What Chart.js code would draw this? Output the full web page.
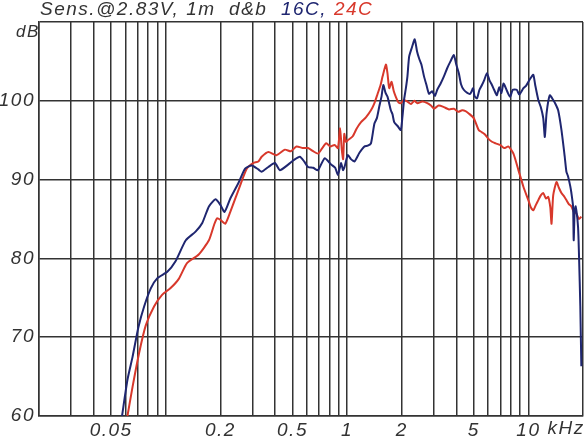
<!DOCTYPE html>
<html>
<head>
<meta charset="utf-8">
<script src="https://cdn.jsdelivr.net/npm/chart.js@4/dist/chart.umd.min.js"></script>
<style>
  html, body { margin: 0; padding: 0; background: #fff; }
  #wrap { width: 586px; height: 436px; position: relative; }
</style>
</head>
<body>
<div id="wrap"><canvas id="chart"></canvas></div>
<script>
// 16C (blue) response, kHz / dB
const blueFreq = [0.0574, 0.0615, 0.0656, 0.0707, 0.076, 0.0827, 0.0899, 0.102, 0.113, 0.129, 0.146, 0.159, 0.173, 0.188, 0.2, 0.211, 0.227, 0.252, 0.274, 0.298, 0.324, 0.338, 0.368, 0.4, 0.426, 0.473, 0.51, 0.549, 0.58, 0.609, 0.65, 0.691, 0.752, 0.818, 0.86, 0.89, 0.91, 0.928, 0.95, 0.968, 1.009, 1.05, 1.098, 1.17, 1.246, 1.3, 1.354, 1.414, 1.46, 1.506, 1.55, 1.584, 1.63, 1.672, 1.743, 1.78, 1.819, 1.9, 1.978, 2.02, 2.064, 2.11, 2.152, 2.199, 2.28, 2.36, 2.43, 2.494, 2.57, 2.656, 2.74, 2.83, 2.95, 3.05, 3.142, 3.28, 3.42, 3.56, 3.716, 3.88, 4.0, 4.133, 4.25, 4.4, 4.6, 4.782, 4.95, 5.05, 5.204, 5.37, 5.543, 5.72, 5.906, 6.1, 6.292, 6.5, 6.698, 6.9, 7.1, 7.29, 7.6, 7.921, 8.2, 8.62, 8.9, 9.384, 9.7, 9.99, 10.3, 10.64, 10.9, 11.34, 11.7, 12.07, 12.32, 12.59, 13.12, 13.7, 14.1, 14.59, 15.21, 15.86, 16.2, 16.55, 17.0, 17.26, 17.63, 17.77, 17.99, 18.22, 18.78, 19.02, 19.33, 19.58];
const blueDb = [60, 64.6, 67.5, 71.3, 73.9, 76.2, 77.5, 78.3, 79.6, 82.3, 83.4, 84.5, 86.6, 87.5, 86.8, 85.9, 87.6, 89.6, 91.4, 91.8, 91.3, 91.0, 91.6, 92.1, 91.2, 91.9, 92.5, 92.9, 92.3, 91.6, 91.5, 91.2, 92.7, 91.9, 91.5, 90.6, 91.4, 92.1, 91.2, 91.6, 93.1, 92.6, 92.3, 93.4, 94.2, 94.3, 94.6, 97.1, 97.8, 99.3, 100.6, 102.0, 101.0, 100.5, 98.8, 98.3, 97.3, 96.8, 96.3, 98.0, 100.2, 101.6, 103.1, 105.6, 106.8, 107.8, 106.3, 105.4, 104.6, 103.1, 102.0, 100.9, 101.2, 100.6, 101.4, 102.2, 103.1, 104.1, 105.0, 105.8, 104.6, 103.5, 102.1, 101.4, 101.0, 100.9, 101.6, 100.6, 100.3, 101.4, 102.0, 102.7, 103.5, 102.6, 102.0, 101.3, 100.7, 101.7, 101.0, 102.2, 101.3, 100.5, 101.4, 101.4, 100.8, 101.6, 101.9, 102.4, 102.9, 103.3, 102.0, 100.1, 99.2, 97.8, 95.4, 98.4, 100.7, 100.1, 99.6, 98.8, 96.3, 92.9, 91.0, 90.4, 89.2, 88.3, 86.6, 82.3, 86.0, 86.6, 84.0, 80.2, 73.9, 66.3];

// 24C (red) response, kHz / dB
const redFreq = [0.0615, 0.0656, 0.0713, 0.0776, 0.0862, 0.0957, 0.106, 0.118, 0.131, 0.152, 0.173, 0.185, 0.192, 0.2, 0.213, 0.227, 0.252, 0.28, 0.304, 0.324, 0.338, 0.368, 0.408, 0.454, 0.49, 0.526, 0.57, 0.609, 0.65, 0.691, 0.73, 0.768, 0.81, 0.853, 0.89, 0.915, 0.935, 0.951, 0.965, 0.985, 1.009, 1.075, 1.13, 1.194, 1.27, 1.354, 1.41, 1.474, 1.53, 1.57, 1.637, 1.67, 1.708, 1.759, 1.81, 1.857, 1.92, 1.978, 2.06, 2.152, 2.25, 2.35, 2.442, 2.6, 2.77, 2.9, 3.014, 3.2, 3.42, 3.65, 3.88, 4.1, 4.308, 4.5, 4.688, 4.994, 5.318, 5.55, 5.78, 6.0, 6.292, 6.6, 6.982, 7.35, 7.764, 8.268, 8.808, 9.384, 9.99, 10.3, 10.64, 11.0, 11.34, 11.7, 12.07, 12.5, 12.86, 13.2, 13.41, 13.7, 14.28, 14.7, 15.21, 15.7, 16.2, 16.7, 17.26, 17.8, 18.38, 19.0, 19.58];
const redDb = [60, 63.7, 68.0, 71.5, 73.9, 75.4, 76.2, 77.4, 79.4, 80.5, 82.3, 84.3, 85.1, 84.9, 84.4, 85.9, 88.7, 91.4, 92.1, 92.3, 92.9, 93.5, 93.1, 93.8, 93.6, 94.2, 94.0, 94.0, 93.6, 93.3, 94.0, 94.6, 94.2, 94.4, 94.0, 96.5, 93.8, 92.6, 95.8, 94.8, 95.0, 95.5, 96.5, 97.3, 97.9, 98.8, 99.6, 100.9, 102.0, 103.1, 104.6, 103.5, 101.6, 102.4, 101.2, 100.5, 99.8, 99.7, 100.1, 99.9, 99.6, 100.0, 99.7, 99.9, 99.7, 99.4, 99.0, 99.4, 99.2, 98.9, 99.0, 98.6, 98.8, 98.7, 98.4, 97.8, 96.3, 96.0, 95.7, 95.2, 94.8, 94.6, 94.4, 94.0, 94.2, 93.3, 91.2, 89.1, 87.4, 86.5, 86.1, 86.8, 87.4, 88.0, 88.3, 87.6, 87.8, 86.5, 84.4, 88.0, 89.7, 89.0, 88.3, 87.9, 87.4, 86.9, 86.6, 85.9, 85.7, 85.0, 85.3];

// grid lines and labelled ticks on the frequency axis
const gridFreqs = [0.02, 0.03, 0.04, 0.05, 0.06, 0.07, 0.08, 0.09, 0.1, 0.2, 0.3, 0.4, 0.5, 0.6, 0.7, 0.8, 0.9, 1, 2, 3, 4, 5, 6, 7, 8, 9, 10, 20];
const xLabelValues = [0.05, 0.2, 0.5, 1, 2, 5, 10];
const xLabelTexts = ["0.05", "0.2", "0.5", "1", "2", "5", "10"];
const dbTicks = [60, 70, 80, 90, 100];

const BLUE = "#1f2670";
const RED = "#d8382b";
const INK = "#333";
const FONT = '"Liberation Sans", Arial, sans-serif';

const textPlugin = {
  id: "texts",
  beforeDraw(chart) {
    chart.ctx.letterSpacing = "1.5px";
  },
  afterDraw(chart) {
    const ctx = chart.ctx;
    ctx.save();
    ctx.letterSpacing = "1.5px";
    ctx.textAlign = "left";
    ctx.textBaseline = "alphabetic";
    ctx.font = "italic 19px " + FONT;
    // title, coloured by series
    const parts = [["Sens.@2.83V, 1m  d&b  ", INK], ["16C,", BLUE], [" ", INK], ["24C", RED]];
    let x = 40;
    parts.forEach(([t, c]) => {
      ctx.fillStyle = c;
      ctx.fillText(t, x, 15);
      x += ctx.measureText(t).width;
    });
    ctx.fillStyle = INK;
    ctx.font = "italic 17px " + FONT;
    ctx.fillText("dB", 16, 37);
    ctx.font = "italic 19px " + FONT;
    ctx.textBaseline = "middle";
    ctx.fillText("kHz", chart.scales.x.getPixelForValue(10) + 19, 429);
    ctx.restore();
  },
};

new Chart(document.getElementById("chart"), {
  type: "line",
  data: {
    datasets: [
      {
        label: "16C",
        data: blueFreq.map((f, i) => ({ x: f, y: blueDb[i] })),
        borderColor: BLUE,
        borderWidth: 2,
        pointRadius: 0,
        tension: 0.2,
      },
      {
        label: "24C",
        data: redFreq.map((f, i) => ({ x: f, y: redDb[i] })),
        borderColor: RED,
        borderWidth: 2,
        pointRadius: 0,
        tension: 0.2,
      },
    ],
  },
  options: {
    responsive: true,
    maintainAspectRatio: false,
    animation: false,
    devicePixelRatio: 1,
    layout: { padding: { top: 22, right: 0, left: 0, bottom: 0 } },
    plugins: {
      legend: { display: false },
      tooltip: { enabled: false },
    },
    scales: {
      x: {
        type: "logarithmic",
        min: 0.02,
        max: 20,
        afterBuildTicks: (scale) => {
          scale.ticks = gridFreqs.map((v) => ({ value: v }));
        },
        afterFit: (scale) => {
          scale.height = 20;
        },
        grid: { color: INK, lineWidth: 1.5, drawTicks: false },
        border: { color: INK, width: 1.5 },
        ticks: {
          autoSkip: false,
          maxRotation: 0,
          minRotation: 0,
          padding: 3,
          color: INK,
          font: { family: FONT, size: 19, style: "italic" },
          callback: (v) => {
            const i = xLabelValues.indexOf(v);
            return i >= 0 ? xLabelTexts[i] : "";
          },
        },
      },
      y: {
        min: 60,
        max: 110,
        afterBuildTicks: (scale) => {
          scale.ticks = dbTicks.concat([110]).map((v) => ({ value: v }));
        },
        afterFit: (scale) => {
          scale.width = 39;
        },
        grid: { color: INK, lineWidth: 1.5, drawTicks: false },
        border: { color: INK, width: 1.5 },
        ticks: {
          padding: 4,
          color: INK,
          font: { family: FONT, size: 19, style: "italic" },
          callback: (v) => (dbTicks.includes(v) ? String(v) : ""),
        },
      },
    },
  },
  plugins: [textPlugin],
});
</script>
</body>
</html>
